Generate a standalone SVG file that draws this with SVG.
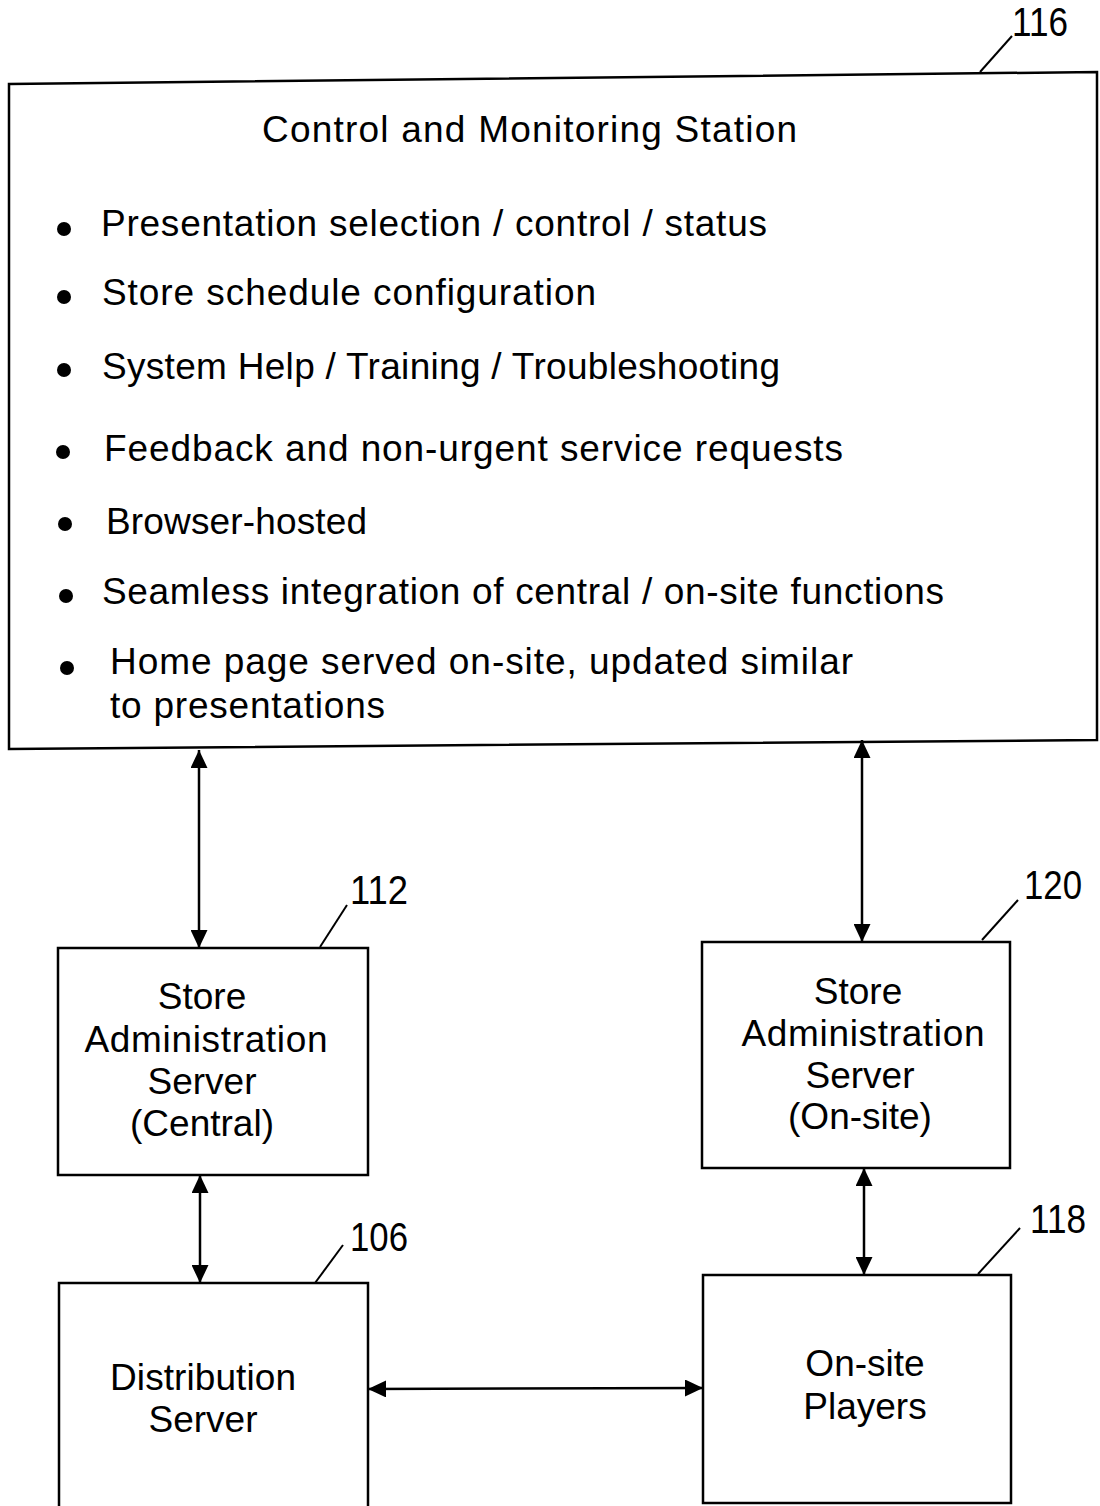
<svg xmlns="http://www.w3.org/2000/svg" width="1100" height="1506" viewBox="0 0 1100 1506">
<style>
.box{fill:none;stroke:#000;stroke-width:2.5}
.ln{fill:none;stroke:#000;stroke-width:2.5}
.ld{fill:none;stroke:#000;stroke-width:2}
text{font-family:"Liberation Sans",Arial,sans-serif;fill:#000}
.t{font-size:37px}
.b{font-size:37px}
.n{font-size:40px}
.nd{font-size:37px;text-anchor:middle}
</style>
<defs>
<marker id="ah" viewBox="0 0 10 10" refX="10" refY="5" markerWidth="18" markerHeight="17" markerUnits="userSpaceOnUse" orient="auto-start-reverse" preserveAspectRatio="none">
<path d="M0,0 L10,5 L0,10 Z" fill="#000"/>
</marker>
</defs>
<g id="n116">
<path class="box" d="M9,84 L1097,72 L1097,740 L9,749 Z"/>
<text class="t" x="262" y="142" textLength="535">Control and Monitoring  Station</text>
<circle cx="64" cy="229" r="7"/>
<text class="b" x="101" y="236" textLength="666">Presentation selection / control / status</text>
<circle cx="64" cy="297" r="7"/>
<text class="b" x="102" y="305" textLength="494">Store schedule configuration</text>
<circle cx="64" cy="370" r="7"/>
<text class="b" x="102" y="379" textLength="678">System Help / Training / Troubleshooting</text>
<circle cx="63" cy="452" r="7"/>
<text class="b" x="104" y="461" textLength="739">Feedback and non-urgent service requests</text>
<circle cx="65" cy="524" r="7"/>
<text class="b" x="106" y="534" textLength="261">Browser-hosted</text>
<circle cx="66" cy="596" r="7"/>
<text class="b" x="102" y="604" textLength="842">Seamless integration of central / on-site functions</text>
<circle cx="67" cy="668" r="7"/>
<text class="b" x="110" y="674" textLength="743">Home page served on-site, updated similar</text>
<text class="b" x="110" y="718" textLength="275">to presentations</text>
<line class="ld" x1="980" y1="72" x2="1012" y2="36"/>
<text class="n" x="1012" y="36" textLength="56" lengthAdjust="spacingAndGlyphs">116</text>
</g>
<g id="n112">
<rect class="box" x="58" y="948" width="310" height="227"/>
<text class="nd" x="202" y="1009">Store</text>
<text class="nd" x="206" y="1052" textLength="243">Administration</text>
<text class="nd" x="202" y="1094">Server</text>
<text class="nd" x="202" y="1136">(Central)</text>
<line class="ld" x1="320" y1="947" x2="347" y2="905"/>
<text class="n" x="350" y="904" textLength="58" lengthAdjust="spacingAndGlyphs">112</text>
</g>
<g id="n120">
<rect class="box" x="702" y="942" width="308" height="226"/>
<text class="nd" x="858" y="1004">Store</text>
<text class="nd" x="863" y="1046" textLength="243">Administration</text>
<text class="nd" x="860" y="1088">Server</text>
<text class="nd" x="860" y="1129">(On-site)</text>
<line class="ld" x1="982" y1="940" x2="1018" y2="900"/>
<text class="n" x="1024" y="899" textLength="58" lengthAdjust="spacingAndGlyphs">120</text>
</g>
<g id="n106">
<path class="box" d="M59,1520 L59,1283 L368,1283 L368,1520"/>
<text class="nd" x="203" y="1390" textLength="186">Distribution</text>
<text class="nd" x="203" y="1432">Server</text>
<line class="ld" x1="315" y1="1283" x2="343" y2="1245"/>
<text class="n" x="350" y="1251" textLength="58" lengthAdjust="spacingAndGlyphs">106</text>
</g>
<g id="n118">
<rect class="box" x="703" y="1275" width="308" height="228"/>
<text class="nd" x="865" y="1376">On-site</text>
<text class="nd" x="865" y="1419">Players</text>
<line class="ld" x1="978" y1="1274" x2="1020" y2="1228"/>
<text class="n" x="1030" y="1233" textLength="56" lengthAdjust="spacingAndGlyphs">118</text>
</g>
<g id="connectors">
<line class="ln" x1="199" y1="750" x2="199" y2="948" marker-start="url(#ah)" marker-end="url(#ah)"/>
<line class="ln" x1="862" y1="740" x2="862" y2="942" marker-start="url(#ah)" marker-end="url(#ah)"/>
<line class="ln" x1="200" y1="1175" x2="200" y2="1283" marker-start="url(#ah)" marker-end="url(#ah)"/>
<line class="ln" x1="864" y1="1168" x2="864" y2="1275" marker-start="url(#ah)" marker-end="url(#ah)"/>
<line class="ln" x1="368" y1="1389" x2="703" y2="1388" marker-start="url(#ah)" marker-end="url(#ah)"/>
</g>
</svg>
